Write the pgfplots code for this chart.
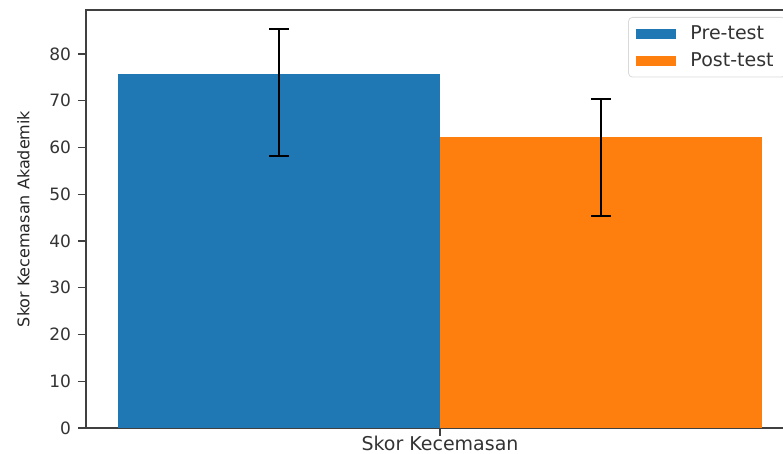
\documentclass[border=0pt]{standalone}
\usepackage{pgfplots}
\pgfplotsset{compat=1.18}
\usepackage{fontspec}
\setmainfont{DejaVu Sans}
\definecolor{mplblue}{HTML}{1F77B4}
\definecolor{mplorange}{HTML}{FF7F0E}
\begin{document}
\begin{tikzpicture}[font=\fontsize{8.5}{10}\selectfont]
\useasboundingbox (0,0) rectangle (391.5pt,227pt);
\clip (0,0) rectangle (391.5pt,227pt);
\begin{scope}[overlay]
\begin{axis}[
    at={(43pt,13pt)}, anchor=south west,
    scale only axis,
    width=354pt, height=209pt,
    xmin=-0.44, xmax=0.44,
    ymin=0, ymax=89.4,
    xtick={0}, xticklabels={Skor Kecemasan},
    ytick={0,10,...,80},
    xtick pos=bottom, ytick pos=left,
    tick align=outside,
    major tick length=4pt,
    tick style={black!75, line width=0.6pt},
    axis line style={black!75, line width=0.6pt},
    /pgf/number format/assume math mode=true,
    ticklabel style={font=\fontsize{8.5}{10}\selectfont, text=black!80},
    xticklabel style={font=\fontsize{9.5}{11}\selectfont, yshift=1.2pt, inner ysep=1pt},
    ylabel={Skor Kecemasan Akademik},
    ylabel style={font=\fontsize{8}{9}\selectfont, text=black!85},
    ylabel shift=3pt,
    ybar, bar width=0.4,
    legend style={at={(1,1)}, anchor=north east, xshift=-4pt, yshift=-3.5pt,
        draw=black!15, rounded corners=2pt, font=\fontsize{9.5}{11}\selectfont,
        text=black!80, row sep=1pt, column sep=5pt, inner xsep=4pt, inner ysep=2pt},
    legend cell align=left,
    legend image code/.code={\fill[#1, sharp corners] (0pt,-2.5pt) rectangle (20pt,2.5pt);},
    error bars/y dir=both,
    error bars/y explicit,
    error bars/error bar style={black, line width=0.8pt},
    error bars/error mark options={rotate=90, black, mark size=5pt, line width=0.8pt},
]
\addplot[fill=mplblue, draw=none, bar shift=0pt]
    coordinates {(-0.2,75.8) += (0,9.5) -= (0,17.6)};
\addplot[fill=mplorange, draw=none, bar shift=0pt]
    coordinates {(0.2,62.2) += (0,8.1) -= (0,16.9)};
\legend{Pre-test, Post-test}
\end{axis}
\end{scope}
\end{tikzpicture}
\end{document}
